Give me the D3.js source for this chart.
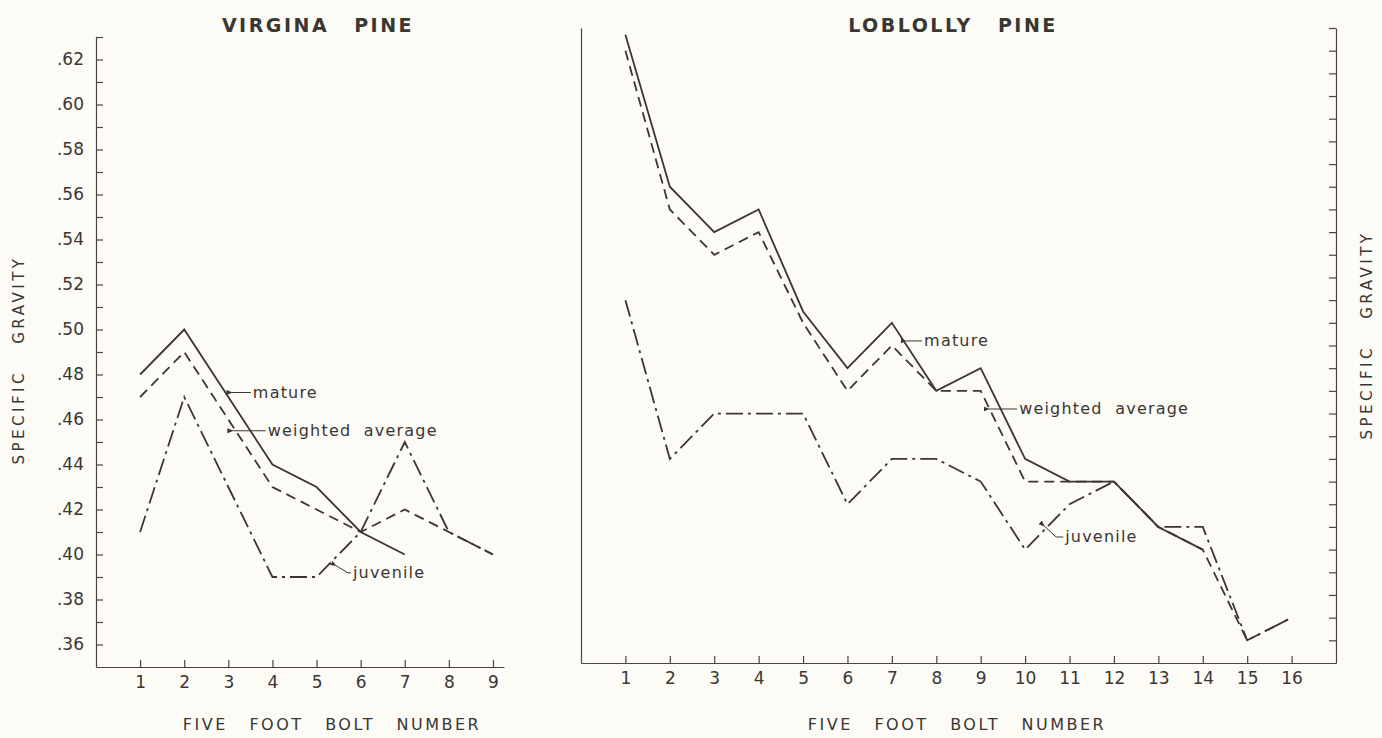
<!DOCTYPE html>
<html>
<head>
<meta charset="utf-8">
<script src="https://cdn.jsdelivr.net/npm/d3@7"></script>
<style>
  body { margin: 0; background: #fcfbf6; }
  svg { display: block; }
  .axis text { font-family: "DejaVu Sans", sans-serif; font-size: 17px; fill: #3a3632; }
  .axis path, .axis line { stroke: #4a4540; stroke-width: 1.2; }
  .label { font-family: "DejaVu Sans", sans-serif; fill: #3a3632; }
</style>
</head>
<body>
<svg id="chart" width="1382" height="738"></svg>
<script>
// bolt numbers
const virginiaBolts = [1, 2, 3, 4, 5, 6, 7, 8, 9];
const loblollyBolts = [1, 2, 3, 4, 5, 6, 7, 8, 9, 10, 11, 12, 13, 14, 15, 16];

// specific gravity, virgina pine
const virginiaMature   = [.48, .50, .47, .44, .43, .41, .40];
const virginiaWeighted = [.47, .49, .46, .43, .42, .41, .42, .41, .40];
const virginiaJuvenile = [.41, .47, .43, .39, .39, .41, .45, .41, .40];

// specific gravity, loblolly pine
const loblollyMature   = [.627, .56, .54, .55, .505, .48, .50, .47, .48, .44, .43, .43, .41, .40];
const loblollyWeighted = [.62, .55, .53, .54, .50, .47, .49, .47, .47, .43, .43, .43, .41, .40, .36, .37];
const loblollyJuvenile = [.51, .44, .46, .46, .46, .42, .44, .44, .43, .40, .42, .43, .41, .41, .36, .37];

// y ticks (every .01, labelled every .02)
const yTicks = [.36, .37, .38, .39, .40, .41, .42, .43, .44, .45, .46, .47, .48, .49, .50,
                .51, .52, .53, .54, .55, .56, .57, .58, .59, .60, .61, .62, .63];
const yLabelled = [.36, .38, .40, .42, .44, .46, .48, .50, .52, .54, .56, .58, .60, .62];

// line annotations (bolt, value where the arrow points)
const virginiaNotes = [
  { text: 'mature', bolt: 3.08, value: .472, hook: [0, 0], lead: 21 },
  { text: 'weighted  average', bolt: 3.10, value: .455, hook: [0, 0], lead: 35 },
  { text: 'juvenile', bolt: 5.44, value: .395, hook: [12, 7], lead: 5 }
];
const loblollyNotes = [
  { text: 'mature', bolt: 7.32, value: .492, hook: [0, 0], lead: 18 },
  { text: 'weighted  average', bolt: 9.19, value: .462, hook: [0, 0], lead: 30 },
  { text: 'juvenile', bolt: 10.43, value: .4104, hook: [12, 11], lead: 9 }
];

const ink = '#3b3632';
const svg = d3.select('#chart');

svg.append('defs').append('marker')
    .attr('id', 'arrow')
    .attr('viewBox', '0 0 10 10')
    .attr('refX', 1).attr('refY', 5)
    .attr('markerWidth', 6).attr('markerHeight', 6)
    .attr('orient', 'auto-start-reverse')
    .append('path')
        .attr('d', 'M0,5 L10,1 L10,9 Z')
        .attr('fill', ink);

const styles = {
  mature:   { dash: null },
  weighted: { dash: '10,6' },
  juvenile: { dash: '17,5,3,5' }
};

function drawPanel(opt) {
  const g = svg.append('g');
  const x = d3.scaleLinear().domain([0, opt.xMax]).range(opt.xRange);
  const y = d3.scaleLinear().domain([.35, .63]).range(opt.yRange);

  // x axis
  g.append('g')
      .attr('class', 'axis')
      .attr('transform', 'translate(0,' + opt.yRange[0] + ')')
      .call(d3.axisBottom(x).tickValues(opt.bolts).tickSize(-7).tickSizeOuter(0).tickPadding(9));

  // left axis
  if (opt.leftTicks) {
    g.append('g')
        .attr('class', 'axis')
        .attr('transform', 'translate(' + opt.xRange[0] + ',0)')
        .call(d3.axisLeft(y).tickValues(yTicks).tickSize(-7).tickSizeOuter(0).tickPadding(12)
          .tickFormat(d => yLabelled.some(v => Math.abs(v - d) < 1e-6) ? d.toFixed(2).slice(1) : ''));
  } else {
    g.append('g')
        .attr('class', 'axis')
        .attr('transform', 'translate(' + opt.xRange[0] + ',0)')
        .call(d3.axisLeft(y).tickValues([]).tickSizeOuter(0));
  }

  // right axis, ticks only
  if (opt.rightAxis) {
    g.append('g')
        .attr('class', 'axis')
        .attr('transform', 'translate(' + opt.xRange[1] + ',0)')
        .call(d3.axisRight(y).tickValues(yTicks).tickSize(-7).tickSizeOuter(0).tickFormat(''));
  }

  const line = d3.line().x(d => x(d[0])).y(d => y(d[1]));

  opt.series.forEach(s => {
    g.append('path')
        .datum(s.values.map((v, i) => [opt.bolts[i], v]))
        .attr('d', line)
        .attr('fill', 'none')
        .attr('stroke', ink)
        .attr('stroke-width', 1.8)
        .attr('stroke-linejoin', 'miter')
        .attr('stroke-dasharray', styles[s.kind].dash);
  });

  // annotations
  opt.notes.forEach(n => {
    const tx = x(n.bolt), ty = y(n.value);
    const hx = tx + n.hook[0], hy = ty + n.hook[1];
    const textX = hx + n.lead;
    g.append('path')
        .attr('d', `M${tx},${ty} L${hx},${hy} L${textX - 2},${hy}`)
        .attr('fill', 'none')
        .attr('stroke', ink)
        .attr('stroke-width', 1)
        .attr('marker-start', 'url(#arrow)');
    g.append('text')
        .attr('class', 'label')
        .attr('x', textX)
        .attr('y', hy)
        .attr('dy', '0.32em')
        .style('font-size', '16px')
        .style('letter-spacing', '1.2px')
        .style('white-space', 'pre')
        .text(n.text);
  });

  // title
  g.append('text')
      .attr('class', 'label')
      .attr('x', opt.titleX).attr('y', 32)
      .attr('text-anchor', 'middle')
      .style('font-size', '19px')
      .style('font-weight', 'bold')
      .style('letter-spacing', '2.5px')
      .style('word-spacing', '16px')
      .text(opt.title);

  // x title
  g.append('text')
      .attr('class', 'label')
      .attr('x', opt.xTitleX).attr('y', 730)
      .attr('text-anchor', 'middle')
      .style('font-size', '16px')
      .style('letter-spacing', '2.5px')
      .style('word-spacing', '14px')
      .text('FIVE FOOT BOLT NUMBER');

  // y title
  g.append('text')
      .attr('class', 'label')
      .attr('transform', 'translate(' + opt.yTitle[0] + ',' + opt.yTitle[1] + ')rotate(-90)')
      .attr('text-anchor', 'middle')
      .attr('dy', '0.35em')
      .style('font-size', '15px')
      .style('letter-spacing', '3.5px')
      .style('word-spacing', '18px')
      .text('SPECIFIC GRAVITY');
}

drawPanel({
  title: 'VIRGINA PINE', titleX: 318, xTitleX: 332, yTitle: [19, 360],
  bolts: virginiaBolts, xMax: 9.25, xRange: [96, 504], yRange: [667, 37],
  leftTicks: true, rightAxis: false,
  series: [
    { kind: 'mature', values: virginiaMature },
    { kind: 'weighted', values: virginiaWeighted },
    { kind: 'juvenile', values: virginiaJuvenile }
  ],
  notes: virginiaNotes
});

drawPanel({
  title: 'LOBLOLLY PINE', titleX: 953, xTitleX: 957, yTitle: [1367, 335],
  bolts: loblollyBolts, xMax: 17, xRange: [581, 1336], yRange: [663, 28],
  leftTicks: false, rightAxis: true,
  series: [
    { kind: 'mature', values: loblollyMature },
    { kind: 'weighted', values: loblollyWeighted },
    { kind: 'juvenile', values: loblollyJuvenile }
  ],
  notes: loblollyNotes
});
</script>
</body>
</html>
